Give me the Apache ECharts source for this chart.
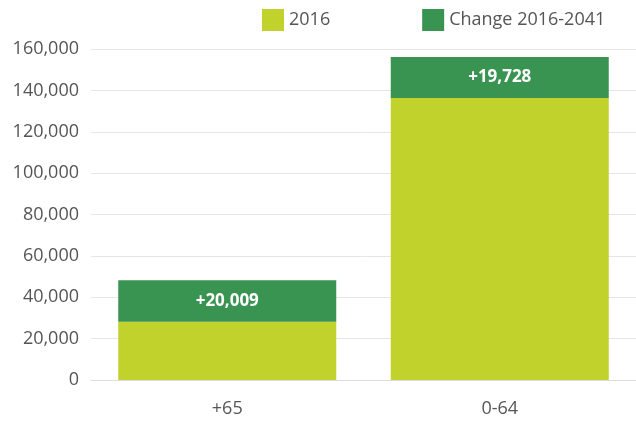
<!DOCTYPE html>
<html>
<head>
<meta charset="utf-8">
<script src="https://cdn.jsdelivr.net/npm/echarts@6/dist/echarts.min.js"></script>
<style>
  html, body { margin: 0; padding: 0; background: #fff; }
  #chart { width: 636px; height: 421px; }
</style>
</head>
<body>
<div id="chart"></div>
<script>
var categories = ["+65", "0-64"];
var base2016 = [28200, 136350];
var change = [20009, 19728];
var yTicks = [0, 20000, 40000, 60000, 80000, 100000, 120000, 140000, 160000];

var myChart = echarts.init(document.getElementById("chart"));
var fontFam = "'Open Sans', Lato, sans-serif";

var option = {
  color: ["#c0d22b", "#399351"],
  textStyle: { fontFamily: fontFam },
  legend: {
    left: 262,
    top: 9,
    padding: 0,
    itemWidth: 22,
    itemHeight: 22,
    itemGap: 92,
    icon: "rect",
    textStyle: { fontSize: 18, color: "#555", fontFamily: fontFam },
    data: ["2016", "Change 2016-2041"]
  },
  grid: { left: 91, right: 0, top: 49, bottom: 41 },
  xAxis: {
    type: "category",
    data: categories,
    axisLine: { lineStyle: { color: "#ddd" } },
    axisTick: { lineStyle: { color: "#ddd" }, length: 6 },
    axisLabel: { fontSize: 18, color: "#555", margin: 20, fontFamily: fontFam }
  },
  yAxis: {
    type: "value",
    min: yTicks[0],
    max: yTicks[yTicks.length - 1],
    interval: 20000,
    axisLine: { show: false },
    axisTick: { show: false },
    splitLine: { lineStyle: { color: "#e6e6e6" } },
    axisLabel: {
      fontSize: 18,
      color: "#555",
      margin: 12,
      fontFamily: fontFam,
      formatter: function (v) { return v.toLocaleString("en-US"); }
    }
  },
  series: [
    {
      name: "2016",
      type: "bar",
      stack: "total",
      barWidth: "80%",
      data: base2016
    },
    {
      name: "Change 2016-2041",
      type: "bar",
      stack: "total",
      barWidth: "80%",
      label: {
        show: true,
        position: "inside",
        color: "#fff",
        fontWeight: "bold",
        fontSize: 17,
        fontFamily: fontFam,
        formatter: function (p) { return "+" + p.value.toLocaleString("en-US"); }
      },
      data: change
    }
  ]
};
myChart.setOption(option);
</script>
</body>
</html>
